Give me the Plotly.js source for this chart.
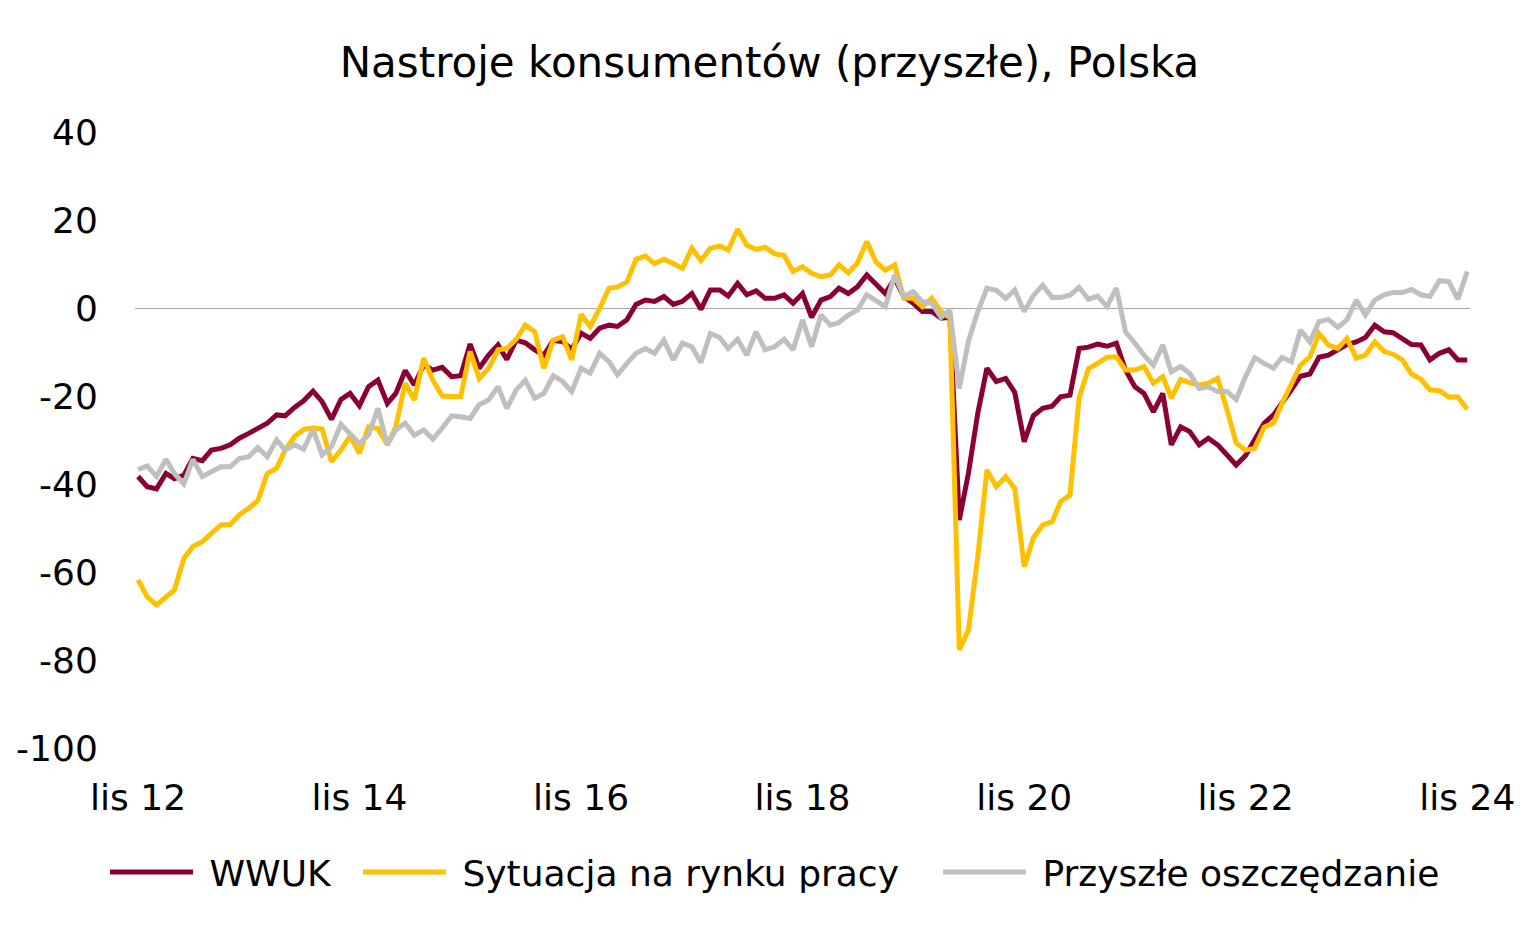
<!DOCTYPE html>
<html>
<head>
<meta charset="utf-8">
<script src="https://cdn.plot.ly/plotly-3.0.1.min.js"></script>
<style>
	html, body { margin: 0; padding: 0; background: #fff; }
	#plot { width: 1539px; height: 935px; }
</style>
</head>
<body>
<div id="plot"></div>
<script>
// monthly, lis 2012 .. lis 2024
var START_YEAR = 2012;
var START_MONTH = 11;

var wwuk = [
	-38.3, -40.6, -41.1, -37.6, -38.8, -38.0, -34.2, -34.7, -32.3, -31.9, -31.1, -29.6,
	-28.5, -27.5, -26.2, -24.3, -24.5, -22.6, -21.1, -18.9, -21.3, -25.3, -20.8, -19.4,
	-22.2, -17.9, -16.4, -21.7, -19.4, -14.2, -17.5, -12.9, -14.1, -13.5, -15.6, -15.4,
	-8.2, -13.7, -10.7, -8.4, -11.7, -7.3, -7.9, -9.5, -10.7, -7.4, -7.6, -9.4,
	-5.7, -6.9, -4.6, -3.9, -4.2, -2.7, 0.8, 1.8, 1.5, 2.6, 0.8, 1.5,
	3.3, -0.3, 4.1, 4.1, 2.7, 5.6, 3.0, 3.9, 2.2, 2.2, 3.0, 1.1,
	3.3, -2.1, 1.8, 2.6, 4.5, 3.3, 4.8, 7.5, 5.6, 3.3, 6.7, 2.6,
	1.1, -0.8, -0.8, -2.3, -2.1, -48.2, -37.6, -23.9, -13.7, -16.7, -16.0, -19.2,
	-30.4, -24.5, -22.8, -22.3, -20.2, -19.8, -9.2, -8.9, -8.2, -8.7, -8.0, -14.1,
	-17.9, -19.4, -23.6, -19.4, -31.1, -27.0, -28.1, -31.1, -29.6, -31.1, -33.4, -35.7,
	-33.5, -30.0, -26.2, -24.3, -21.7, -18.6, -15.5, -15.0, -11.2, -10.7, -9.5, -8.3,
	-7.7, -6.7, -3.9, -5.4, -5.6, -6.9, -8.3, -8.4, -11.8, -10.3, -9.5, -11.8,
	-11.8
];

var rynekPracy = [
	-61.8, -65.6, -67.5, -65.6, -64.1, -56.9, -54.2, -53.1, -51.2, -49.3, -49.2, -47.0,
	-45.5, -43.8, -37.6, -36.4, -32.3, -29.2, -27.6, -27.3, -27.5, -34.9, -32.3, -29.1,
	-33.0, -27.0, -27.4, -31.1, -27.0, -17.1, -20.9, -11.4, -16.4, -20.0, -20.1, -20.1,
	-9.9, -16.0, -13.7, -9.5, -9.2, -7.1, -3.9, -5.4, -13.7, -7.3, -6.5, -11.8,
	-1.4, -4.2, -0.1, 4.5, 4.8, 5.9, 11.1, 11.8, 10.1, 11.1, 10.1, 9.0,
	13.6, 10.8, 13.6, 14.1, 13.2, 17.9, 14.3, 13.3, 13.8, 12.3, 12.0, 8.3,
	9.4, 7.9, 7.1, 7.5, 9.8, 8.0, 10.2, 15.1, 10.5, 8.6, 9.8, 2.2,
	2.2, 0.3, 2.2, -0.8, -2.3, -77.7, -73.2, -56.5, -36.8, -40.6, -38.3, -41.0,
	-58.8, -52.3, -49.3, -48.6, -44.0, -42.5, -20.4, -13.8, -12.6, -11.2, -11.1, -14.1,
	-14.1, -13.3, -17.1, -15.6, -20.5, -16.2, -17.0, -17.5, -17.1, -16.0, -23.2, -30.7,
	-32.3, -31.9, -27.1, -26.2, -21.7, -17.5, -13.0, -11.1, -5.8, -8.4, -9.2, -6.9,
	-11.4, -10.7, -7.7, -9.9, -10.5, -11.8, -15.0, -16.2, -18.6, -18.8, -20.2, -20.2,
	-23.0
];

var oszczedzanie = [
	-36.7, -35.9, -38.3, -34.4, -37.6, -40.0, -34.4, -38.3, -37.2, -36.1, -36.1, -34.2,
	-33.8, -31.7, -33.8, -30.0, -32.3, -31.1, -32.1, -27.6, -33.4, -31.5, -26.4, -28.5,
	-30.8, -28.9, -22.8, -31.1, -27.7, -26.2, -28.9, -27.7, -29.8, -27.3, -24.5, -24.7,
	-25.1, -22.0, -20.9, -17.9, -22.8, -18.6, -16.4, -20.5, -19.4, -15.4, -16.7, -19.0,
	-13.7, -14.8, -10.3, -12.2, -15.2, -12.6, -10.3, -9.2, -10.3, -7.3, -11.8, -8.0,
	-8.8, -12.4, -5.8, -6.7, -9.2, -7.1, -10.7, -5.4, -9.5, -8.8, -7.1, -9.5,
	-2.7, -8.8, -1.6, -3.9, -3.3, -1.6, -0.5, 3.0, 1.7, 0.3, 7.5, 2.6,
	3.7, 1.4, 1.1, -2.1, -0.5, -18.3, -7.6, -0.8, 4.5, 4.0, 2.2, 4.1,
	-0.8, 2.8, 5.2, 2.4, 2.4, 2.9, 4.7, 2.0, 2.7, 0.3, 4.5, -5.4,
	-8.0, -10.7, -13.0, -8.4, -14.5, -13.3, -14.9, -18.3, -17.9, -19.0, -19.0, -20.8,
	-15.6, -11.3, -12.6, -13.7, -11.2, -12.2, -5.0, -7.7, -3.1, -2.6, -4.4, -2.7,
	1.8, -1.6, 1.8, 3.0, 3.5, 3.5, 4.2, 3.0, 2.6, 6.2, 6.0, 2.0,
	8.3
];

var seriesNames = ['WWUK', 'Sytuacja na rynku pracy', 'Przyszłe oszczędzanie'];
var xTickVals = ['2012-11-01', '2014-11-01', '2016-11-01', '2018-11-01', '2020-11-01', '2022-11-01', '2024-11-01'];
var xTickText = ['lis 12', 'lis 14', 'lis 16', 'lis 18', 'lis 20', 'lis 22', 'lis 24'];
var yTickVals = [-100, -80, -60, -40, -20, 0, 20, 40];
var yTickText = ['-100', '-80', '-60', '-40', '-20', '0', '20', '40'];

function pad(n){
	return n < 10 ? '0' + n : '' + n;
}

function monthDates(count){
	var out = [];
	var y = START_YEAR, m = START_MONTH;
	for(var i = 0; i < count; i++){
		out.push(y + '-' + pad(m) + '-01');
		m++;
		if(m > 12){ m = 1; y++; }
	}
	return out;
}

var dates = monthDates(wwuk.length);
var FONT = '"DejaVu Sans", Verdana, sans-serif';
var colors = ['#8a0035', '#ffc000', '#bfbfbf'];
var values = [wwuk, rynekPracy, oszczedzanie];
var legendKeys = ['legend', 'legend2', 'legend3'];
// left edge (px) of each legend entry's line sample
var legendLeft = [112, 365, 945];

var data = values.map((vals, idx) => {
	return {
		x: dates,
		y: vals,
		type: 'scatter',
		mode: 'lines',
		name: '\u00a0' + seriesNames[idx],
		legend: legendKeys[idx],
		line: { color: colors[idx], width: 5 }
	};
});

var layout = {
	width: 1539,
	height: 935,
	paper_bgcolor: '#fff',
	plot_bgcolor: '#fff',
	font: { family: FONT, size: 36, color: '#000' },
	margin: { l: 135, r: 69, t: 132, b: 187 },
	title: {
		text: 'Nastroje konsumentów (przyszłe), Polska',
		font: { family: FONT, size: 42, color: '#000' },
		xref: 'container',
		x: 0.5,
		xanchor: 'center',
		yref: 'container',
		y: 1 - 62 / 935,
		yanchor: 'middle'
	},
	xaxis: {
		type: 'date',
		range: ['2012-10-22', '2024-11-10'],
		tickvals: xTickVals,
		ticktext: xTickText,
		showgrid: false,
		zeroline: false,
		showline: false,
		ticks: 'outside',
		ticklen: 18,
		tickcolor: 'rgba(0,0,0,0)',
		tickfont: { family: FONT, size: 36, color: '#000' }
	},
	yaxis: {
		range: [-100, 40],
		tickvals: yTickVals,
		ticktext: yTickText,
		showgrid: false,
		zeroline: true,
		zerolinecolor: '#a6a6a6',
		zerolinewidth: 1,
		showline: false,
		ticks: 'outside',
		ticklen: 29,
		tickcolor: 'rgba(0,0,0,0)',
		tickfont: { family: FONT, size: 36, color: '#000' }
	},
	showlegend: true
};

legendKeys.forEach((key, idx) => {
	layout[key] = {
		orientation: 'h',
		xref: 'container',
		x: (legendLeft[idx] - 7) / 1539,
		xanchor: 'left',
		yref: 'container',
		y: 1 - 872 / 935,
		yanchor: 'middle',
		itemwidth: 83,
		bgcolor: 'rgba(0,0,0,0)',
		font: { family: FONT, size: 36, color: '#000' }
	};
});

Plotly.newPlot('plot', data, layout, { displayModeBar: false, staticPlot: true });
</script>
</body>
</html>
